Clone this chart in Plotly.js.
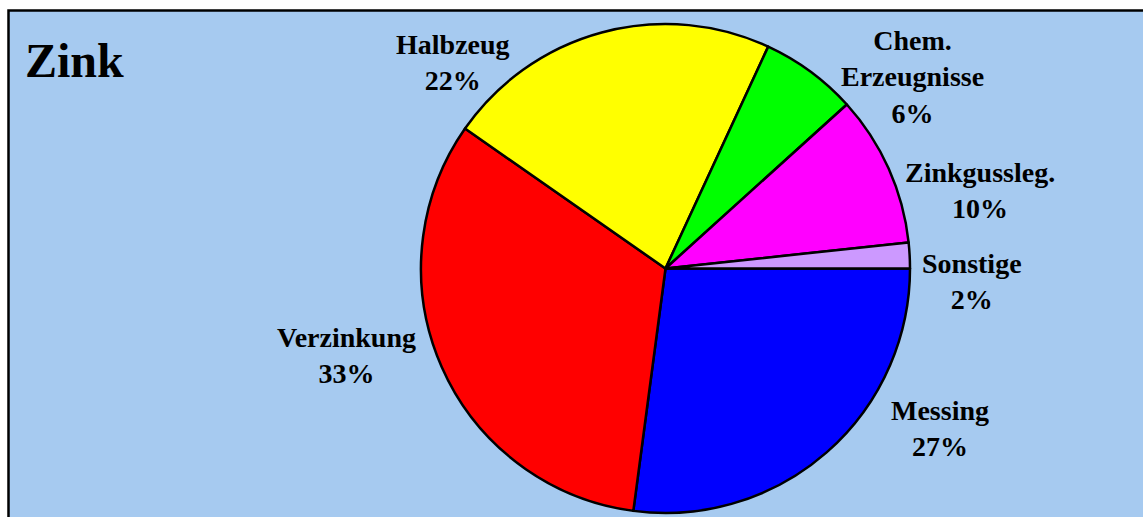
<!DOCTYPE html>
<html>
<head>
<meta charset="utf-8">
<script src="https://cdn.plot.ly/plotly-3.0.1.min.js"></script>
<style>html,body{margin:0;padding:0;background:#fff;}#chart{width:1143px;height:517px;}</style>
</head>
<body>
<div id="chart"></div>
<script>
// Data (slice sizes; labels show rounded percentages)
const categories = ["Messing", "Verzinkung", "Halbzeug", "Chem.<br>Erzeugnisse", "Zinkgussleg.", "Sonstige"];
const values = [27.1, 32.6, 22.2, 6.4, 10.0, 1.7];
const colors = ["#0000FF", "#FF0000", "#FFFF00", "#00FF00", "#FF00FF", "#CC99FF"];
const chartTitle = "Zink";

// Label placement (layout, pixel positions converted to paper coordinates)
const W = 1143, H = 517;
const labelPos = [
  [940, 428], [346, 355], [453, 62], [912, 77], [980, 191], [972, 281]
];

const total = values.reduce((a, b) => a + b, 0);
const fontFam = "'Liberation Serif', 'Times New Roman', serif";

const annotations = categories.map((c, i) => ({
  xref: "paper", yref: "paper",
  x: labelPos[i][0] / W, y: 1 - labelPos[i][1] / H,
  xanchor: "center", yanchor: "middle",
  text: "<b>" + c + "<br>" + Math.round(values[i] / total * 100) + "%</b>",
  showarrow: false,
  align: "center",
  font: {family: fontFam, size: 28, color: "#000"}
}));
annotations.push({
  xref: "paper", yref: "paper", x: 23 / W, y: 1 - 60 / H,
  xanchor: "left", yanchor: "middle",
  text: "<b>" + chartTitle + "</b>", showarrow: false,
  font: {family: fontFam, size: 48, color: "#000"}
});

const trace = {
  type: "pie",
  values: values,
  labels: categories,
  sort: false,
  direction: "clockwise",
  rotation: 90,
  marker: {colors: colors, line: {color: "#000", width: 2.5}},
  textinfo: "none",
  hoverinfo: "label+percent",
  showlegend: false,
  domain: {x: [421 / W, 910 / W], y: [1 - 513 / H, 1 - 24 / H]}
};

const layout = {
  width: W, height: H,
  margin: {l: 0, r: 0, t: 0, b: 0},
  paper_bgcolor: "#FFFFFF",
  showlegend: false,
  shapes: [{
    type: "rect", xref: "paper", yref: "paper", layer: "below",
    x0: 8.5 / W, x1: 1.02, y0: -0.02, y1: 1 - 10.5 / H,
    fillcolor: "#A6CAF0", line: {color: "#000", width: 2.5}
  }],
  annotations: annotations
};

Plotly.newPlot("chart", [trace], layout, {displayModeBar: false, staticPlot: true});
</script>
</body>
</html>
